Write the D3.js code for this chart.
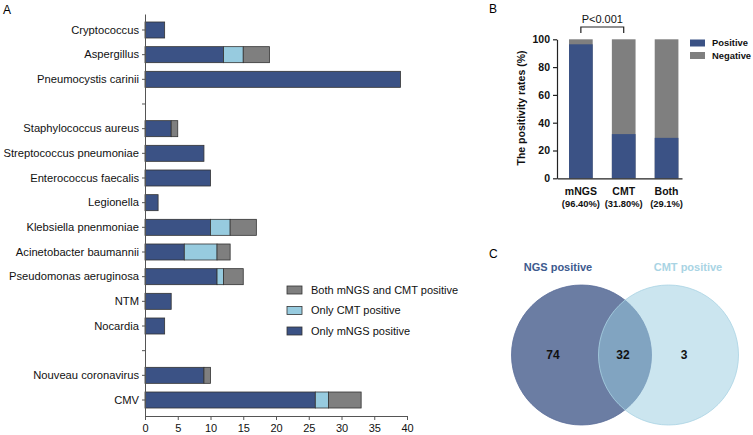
<!DOCTYPE html>
<html>
<head>
<meta charset="utf-8">
<script src="https://cdn.jsdelivr.net/npm/d3@7"></script>
<style>
  body { margin: 0; background: #fff; }
  svg { font-family: "Liberation Sans", Arial, sans-serif; }
</style>
</head>
<body>
<div id="chart"></div>
<script>
// panel A data
const pathogens = ['Cryptococcus', 'Aspergillus', 'Pneumocystis carinii', 'gap1',
    'Staphylococcus aureus', 'Streptococcus pneumoniae', 'Enterococcus faecalis', 'Legionella',
    'Klebsiella pnenmoniae', 'Acinetobacter baumannii', 'Pseudomonas aeruginosa', 'NTM', 'Nocardia',
    'gap2', 'Nouveau coronavirus', 'CMV'];
const onlyMngs = [3, 12, 39, 0, 4, 9, 10, 2, 10, 6, 11, 4, 3, 0, 9, 26];
const onlyCmt = [0, 3, 0, 0, 0, 0, 0, 0, 3, 5, 1, 0, 0, 0, 0, 2];
const bothPos = [0, 4, 0, 0, 1, 0, 0, 0, 4, 2, 3, 0, 0, 0, 1, 5];
const seriesKeys = ['Only mNGS positive', 'Only CMT positive', 'Both mNGS and CMT positive'];
const xTicksA = [0, 5, 10, 15, 20, 25, 30, 35, 40];

// panel B data
const methods = ['mNGS', 'CMT', 'Both'];
const methodRates = ['(96.40%)', '(31.80%)', '(29.1%)'];
const positiveRate = [96.4, 31.8, 29.1];
const yTicksB = [0, 20, 40, 60, 80, 100];

// panel C data
const vennLabels = ['NGS positive', 'CMT positive'];
const vennCounts = [74, 32, 3];

const darkBlue = '#3b5285', lightBlue = '#97cbdf', grey = '#7f7f7f';
const colors = [darkBlue, lightBlue, grey];

const w = 753, h = 435;
const svg = d3.select('#chart').append('svg').attr('width', w).attr('height', h);

// ---------- A ----------
svg.append('text').attr('x', 3).attr('y', 14).style('font-size', '12px').text('A');

const rows = pathogens.map((p, i) => ({ name: p, a: onlyMngs[i], b: onlyCmt[i], c: bothPos[i] }));
const stack = d3.stack().keys(['a', 'b', 'c'])(rows.filter(d => !d.name.startsWith('gap')));

const xA = d3.scaleLinear().domain([0, 40]).range([145, 407]);
const yA = d3.scaleBand().domain(pathogens).range([14, 416]).paddingInner(0.351).paddingOuter(0.324);

const gA = svg.append('g');
stack.forEach((s, i) => {
    gA.selectAll('rect.s' + i)
        .data(s.filter(d => d[1] > d[0]))
        .enter()
        .append('rect')
        .attr('x', d => xA(d[0]))
        .attr('y', d => yA(d.data.name))
        .attr('width', d => xA(d[1]) - xA(d[0]))
        .attr('height', yA.bandwidth())
        .attr('fill', colors[i])
        .attr('stroke', '#333')
        .attr('stroke-width', 0.8);
});

const yAxisA = d3.axisLeft(yA).tickSize(3).tickSizeOuter(0)
    .tickFormat(d => d.startsWith('gap') ? '' : d);
const gyA = gA.append('g').attr('transform', 'translate(145,0)').call(yAxisA);
gyA.selectAll('text').style('font-size', '11.2px').attr('fill', '#111');

const xAxisA = d3.axisBottom(xA).tickValues(xTicksA).tickSize(4).tickSizeOuter(0);
const gxA = gA.append('g').attr('transform', 'translate(0,416)').call(xAxisA);
gxA.selectAll('text').style('font-size', '11px').attr('fill', '#111').attr('dy', '0.85em');
gA.selectAll('.domain, .tick line').attr('stroke', '#555');

// legend A
const legA = gA.append('g');
[2, 1, 0].forEach((k, j) => {
    const y = 290 + j * 20.5;
    legA.append('rect').attr('x', 287).attr('y', y - 4).attr('width', 15).attr('height', 8)
        .attr('fill', colors[k]).attr('stroke', '#333').attr('stroke-width', 0.8);
    legA.append('text').attr('x', 311).attr('y', y).attr('dy', '0.35em')
        .style('font-size', '11px').attr('fill', '#111').text(seriesKeys[k]);
});

// ---------- B ----------
svg.append('text').attr('x', 489).attr('y', 13).style('font-size', '12px').text('B');

const xB = d3.scaleBand().domain(methods).range([557, 682])
    .paddingInner(0.447).paddingOuter(0.182).align(0.77);
const yB = d3.scaleLinear().domain([0, 100]).range([178.3, 39.3]);
const gB = svg.append('g');

gB.selectAll('rect.neg').data(methods).enter().append('rect')
    .attr('x', d => xB(d)).attr('width', xB.bandwidth())
    .attr('y', yB(100)).attr('height', yB(0) - yB(100)).attr('fill', grey);
gB.selectAll('rect.pos').data(methods).enter().append('rect')
    .attr('x', d => xB(d)).attr('width', xB.bandwidth())
    .attr('y', (d, i) => yB(positiveRate[i])).attr('height', (d, i) => yB(0) - yB(positiveRate[i]))
    .attr('fill', darkBlue);

const gyB = gB.append('g').attr('transform', 'translate(557,0)')
    .call(d3.axisLeft(yB).tickValues(yTicksB).tickSize(4).tickSizeOuter(0));
gyB.selectAll('text').style('font-size', '10.5px').style('font-weight', 'bold').attr('fill', '#111');
const gxB = gB.append('g').attr('transform', 'translate(0,178.3)')
    .call(d3.axisBottom(xB).tickSize(0).tickSizeOuter(0).tickFormat(''));
gB.selectAll('.domain, .tick line').attr('stroke', '#222').attr('stroke-width', 1.2);

methods.forEach((m, i) => {
    const cx = xB(m) + xB.bandwidth() / 2;
    gB.append('text').attr('x', cx).attr('y', 195).attr('text-anchor', 'middle')
        .style('font-size', '10.5px').style('font-weight', 'bold').attr('fill', '#111').text(m);
    gB.append('text').attr('x', cx).attr('y', 207).attr('text-anchor', 'middle')
        .style('font-size', '9.4px').style('font-weight', 'bold').attr('fill', '#111').text(methodRates[i]);
});

gB.append('text').attr('transform', 'translate(525,108) rotate(-90)').attr('text-anchor', 'middle')
    .style('font-size', '10.5px').style('font-weight', 'bold').attr('fill', '#111')
    .text('The positivity rates (%)');

// significance bracket
const b1 = xB('mNGS') + xB.bandwidth() / 2, b2 = xB('CMT') + xB.bandwidth() / 2;
gB.append('path').attr('d', `M${b1},33V27H${b2}V33`).attr('fill', 'none').attr('stroke', '#222').attr('stroke-width', 1.2);
gB.append('text').attr('x', (b1 + b2) / 2).attr('y', 23).attr('text-anchor', 'middle')
    .style('font-size', '11px').attr('fill', '#111').text('P<0.001');

// legend B
[['Positive', darkBlue], ['Negative', grey]].forEach((d, j) => {
    const y = 43 + j * 12.5;
    gB.append('rect').attr('x', 690).attr('y', y - 3.5).attr('width', 15).attr('height', 7).attr('fill', d[1]);
    gB.append('text').attr('x', 712).attr('y', y).attr('dy', '0.35em')
        .style('font-size', '9.4px').style('font-weight', 'bold').attr('fill', '#111').text(d[0]);
});

// ---------- C ----------
svg.append('text').attr('x', 489).attr('y', 258).style('font-size', '12px').text('C');
const gC = svg.append('g');
const r = 70, cy = 355;
gC.append('circle').attr('cx', 581.5).attr('cy', cy).attr('r', r)
    .attr('fill', '#6b7da3').attr('stroke', '#5a6d99').attr('stroke-width', 0.8);
gC.append('circle').attr('cx', 668.5).attr('cy', cy).attr('r', r)
    .attr('fill', lightBlue).attr('fill-opacity', 0.5).attr('stroke', '#a9d3e3').attr('stroke-width', 0.8);

gC.append('text').attr('x', 558).attr('y', 271).attr('text-anchor', 'middle')
    .style('font-size', '11px').style('font-weight', 'bold').attr('fill', '#3d5a8e').text(vennLabels[0]);
gC.append('text').attr('x', 688).attr('y', 271).attr('text-anchor', 'middle')
    .style('font-size', '11px').style('font-weight', 'bold').attr('fill', '#a9d4e4').text(vennLabels[1]);
[553, 623, 684].forEach((x, i) => {
    gC.append('text').attr('x', x).attr('y', cy).attr('dy', '0.35em').attr('text-anchor', 'middle')
        .style('font-size', '12px').style('font-weight', 'bold').attr('fill', '#111').text(vennCounts[i]);
});
</script>
</body>
</html>
